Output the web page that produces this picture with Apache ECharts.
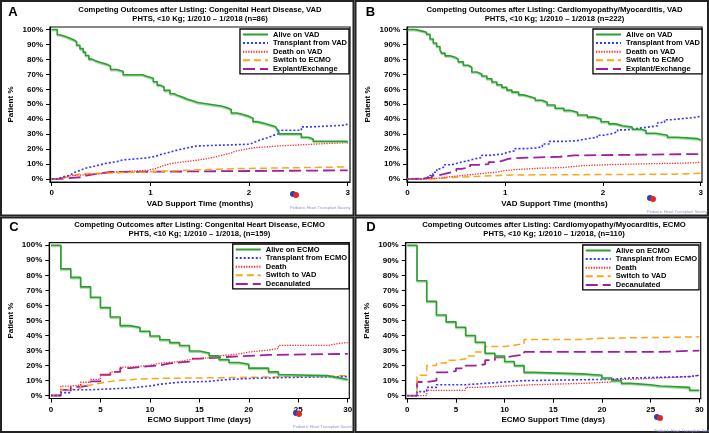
<!DOCTYPE html>
<html><head><meta charset="utf-8">
<script src="https://cdn.jsdelivr.net/npm/echarts@6.0.0/dist/echarts.min.js"></script>
<style>html,body{margin:0;padding:0;background:#fff}#c{width:709px;height:433px}</style>
</head><body><div id="c"></div>
<script>
// ---------- DATA ----------
const pctTicks = [0,10,20,30,40,50,60,70,80,90,100];
const monthTicks = [0,1,2,3];
const dayTicks = [0,5,10,15,20,25,30];

const vadNames = ['Alive on VAD','Transplant from VAD','Death on VAD','Switch to ECMO','Explant/Exchange'];
const ecmoNames = ['Alive on ECMO','Transplant from ECMO','Death','Switch to VAD','Decanulated'];

const panelLetters = ['A','B','C','D'];
const panelTitles = [
  'Competing Outcomes after Listing: Congenital Heart Disease, VAD\nPHTS, <10 Kg; 1/2010 \u2013 1/2018 (n=86)',
  'Competing Outcomes after Listing: Cardiomyopathy/Myocarditis, VAD\nPHTS, <10 Kg; 1/2010 \u2013 1/2018 (n=222)',
  'Competing Outcomes after Listing: Congenital Heart Disease, ECMO\nPHTS, <10 Kg; 1/2010 \u2013 1/2018, (n=159)',
  'Competing Outcomes after Listing: Cardiomyopathy/Myocarditis, ECMO\nPHTS, <10 Kg; 1/2010 \u2013 1/2018, (n=110)'
];
const xNames = ['VAD Support Time (months)','VAD Support Time (months)','ECMO Support Time (days)','ECMO Support Time (days)'];

// Panel A: Congenital heart disease, VAD (months)
const chdVadAlive = [[0,100],[0.057,96.5],[0.084,95.3],[0.14,94.2],[0.185,93.0],[0.226,91.9],[0.253,89.5],[0.286,87.2],[0.32,84.9],[0.343,82.6],[0.377,80.2],[0.41,79.1],[0.444,77.9],[0.495,76.7],[0.562,75.6],[0.596,73.3],[0.657,72.1],[0.724,69.8],[0.92,68.6],[0.97,67.4],[1.03,65.1],[1.07,62.8],[1.1,61.6],[1.14,59.3],[1.2,57.0],[1.24,55.8],[1.28,54.7],[1.33,53.5],[1.37,52.3],[1.43,51.2],[1.48,50.0],[1.6,48.8],[1.72,47.7],[1.78,46.5],[1.82,44.2],[1.88,43.0],[1.95,41.9],[2.0,40.7],[2.04,38.4],[2.08,37.2],[2.16,36.0],[2.22,34.9],[2.27,33.7],[2.29,32.6],[2.31,30.2],[2.53,27.9],[2.6,26.7],[2.65,25.3],[2.99,24.4]];
const chdVadTx = [[0,0],[0.07,1.2],[0.1,2.3],[0.17,3.5],[0.21,4.7],[0.24,5.8],[0.29,7.0],[0.33,8.1],[0.4,9.3],[0.48,10.5],[0.55,11.6],[0.66,12.8],[0.72,14.0],[0.95,15.1],[1.05,16.3],[1.1,17.4],[1.17,18.6],[1.23,19.8],[1.3,20.9],[1.38,22.1],[1.47,23.3],[2.01,24.4],[2.05,25.6],[2.09,26.7],[2.14,27.9],[2.2,29.1],[2.24,30.2],[2.3,32.6],[2.53,34.9],[2.63,36.0],[2.98,37.2]];
const chdVadDeath = [[0,0],[0.05,1.2],[0.13,2.3],[0.2,3.5],[0.5,4.7],[0.6,5.8],[0.98,7.0],[1.05,8.1],[1.1,9.3],[1.15,10.5],[1.22,11.6],[1.35,12.8],[1.5,14.0],[1.6,15.1],[1.68,16.3],[1.75,17.4],[1.82,18.6],[1.86,19.8],[1.95,20.9],[2.05,22.1],[2.3,23.3],[2.65,24.4]];
const chdVadSwitch = [[0,0],[0.1,1.2],[0.15,2.3],[0.22,3.5],[0.3,4.7],[0.95,5.8],[1.35,7.0],[1.9,8.1]];
const chdVadExplant = [[0,0],[0.05,1.2],[0.3,2.3],[0.35,3.5],[0.45,4.7],[0.6,5.8]];

// Panel B: Cardiomyopathy/Myocarditis, VAD (months)
const cmVadAlive = [[0,100],[0.075,99.1],[0.144,98.2],[0.195,96.8],[0.23,93.7],[0.264,91.0],[0.298,88.7],[0.332,86.5],[0.349,84.2],[0.384,82.4],[0.435,81.5],[0.486,80.2],[0.52,78.4],[0.572,76.1],[0.623,74.8],[0.658,71.6],[0.709,70.3],[0.76,68.9],[0.812,67.1],[0.863,64.9],[0.914,63.1],[0.966,61.3],[1.017,59.5],[1.068,58.1],[1.137,56.3],[1.188,55.4],[1.24,54.1],[1.308,52.7],[1.377,51.4],[1.428,49.5],[1.51,47.3],[1.6,45.9],[1.67,44.6],[1.74,42.8],[1.84,41.4],[1.91,40.1],[1.98,38.3],[2.06,36.9],[2.13,35.6],[2.2,34.7],[2.3,33.3],[2.39,32.4],[2.44,30.6],[2.54,29.3],[2.66,27.9],[2.76,27.0],[2.97,26.1]];
const cmVadTx = [[0,0],[0.144,0.9],[0.21,2.3],[0.26,4.5],[0.3,6.8],[0.33,8.1],[0.38,9.5],[0.45,10.4],[0.5,11.3],[0.55,12.2],[0.62,13.5],[0.69,14.4],[0.76,15.8],[0.83,16.2],[0.9,16.7],[0.97,18.0],[1.03,18.9],[1.1,20.3],[1.2,20.7],[1.31,21.6],[1.38,23.4],[1.45,25.2],[1.6,25.7],[1.74,27.0],[1.84,27.9],[1.94,29.3],[2.01,30.2],[2.08,31.5],[2.15,32.9],[2.25,33.8],[2.35,34.7],[2.46,35.6],[2.56,37.8],[2.63,39.6],[2.69,40.5],[2.83,41.4],[2.97,42.3]];
const cmVadDeath = [[0,0],[0.21,0.5],[0.31,1.4],[0.42,2.3],[0.55,3.2],[0.69,4.1],[0.83,4.5],[0.9,5.4],[0.97,6.3],[1.1,6.8],[1.25,7.2],[1.34,7.7],[1.6,9.0],[1.8,9.5],[2.01,9.9],[2.25,10.8],[2.93,11.3]];
const cmVadSwitch = [[0,0],[0.21,0.5],[0.35,0.9],[0.42,1.4],[0.55,1.8],[0.73,2.7],[1.07,3.2],[2.73,3.8]];
const cmVadExplant = [[0,0],[0.03,0.5],[0.18,0.9],[0.25,2.3],[0.3,3.2],[0.37,4.5],[0.45,5.4],[0.5,6.8],[0.55,7.7],[0.64,9.5],[0.73,9.9],[0.83,11.3],[0.9,12.2],[0.97,13.5],[1.03,14.0],[1.1,14.9],[1.56,15.8],[1.7,16.7]];

// Panel C: Congenital heart disease, ECMO (days)
const chdEcmoAlive = [[0,100],[1,84.3],[2,78.6],[3,72.3],[4,65.4],[5,58.5],[6,52.2],[7,46.5],[8,45.3],[9,42.8],[10,39.6],[11,37.1],[12,35.2],[13,33.3],[14,29.6],[15,28.3],[16,26.4],[17,23.9],[18,22.0],[19,20.8],[20,18.2],[22,15.7],[23,13.8],[24,13.2],[28,11.9],[29,10.7]];
const chdEcmoTx = [[0,0],[1,1.9],[2,3.8],[4,5.0],[8,5.7],[9,6.3],[10,7.5],[11,8.2],[12,8.8],[13,9.4],[16,10.1],[17,10.7],[18,11.3],[20,12.0],[24,12.6]];
const chdEcmoDeath = [[0,0],[1,6.3],[2,6.9],[3,8.8],[4,10.7],[5,13.8],[6,15.7],[7,18.9],[8,19.5],[9,20.1],[10,21.4],[11,22.0],[12,22.6],[13,23.9],[14,24.5],[15,25.2],[16,26.4],[17,27.0],[18,27.7],[19,28.9],[20,29.6],[21,30.2],[22,31.4],[23,33.3],[28,34.6],[29,35.2]];
const chdEcmoSwitch = [[0,0],[1,3.8],[2,5.0],[3,6.9],[4,8.2],[5,9.4],[6,10.1],[7,11.3],[10,11.9],[18,13.2]];
const chdEcmoDecan = [[0,0],[1,3.8],[2,5.7],[3,6.9],[4,9.4],[5,13.8],[6,15.7],[7,18.2],[8,18.9],[9,19.5],[10,20.1],[11,21.4],[12,22.0],[13,22.6],[14,24.5],[15,25.2],[17,25.8],[18,26.4],[20,27.0],[22,27.7]];

// Panel D: Cardiomyopathy/Myocarditis, ECMO (days)
const cmEcmoAlive = [[0,100],[1,76.4],[2,62.7],[3,53.6],[4,49.1],[5,45.5],[6,40.0],[7,35.5],[8,28.2],[9,26.4],[10,22.7],[11,20.0],[12,15.5],[13,14.5],[18,13.6],[20,11.8],[21,10.0],[22,8.2],[23,7.3],[25,6.4],[26,5.5],[29,3.6]];
const cmEcmoTx = [[0,0],[1,2.7],[2,5.5],[3,7.3],[6,8.2],[8,9.1],[10,10.0],[12,10.9],[21,11.8],[23,12.7],[29,13.6]];
const cmEcmoDeath = [[0,0],[2,3.6],[6,5.5],[7,6.4],[10,7.3],[13,8.2],[18,9.1],[21,10.9],[23,11.8],[26,12.7],[29,13.6]];
const cmEcmoSwitch = [[0,0],[1,13.6],[2,20.0],[3,21.8],[4,23.6],[5,24.5],[6,26.4],[7,29.1],[8,32.7],[10,33.6],[11,34.5],[12,37.3],[18,38.2],[20,39.1]];
const cmEcmoDecan = [[0,0],[1,9.1],[2,10.0],[3,15.5],[4,16.4],[5,18.2],[6,20.0],[7,20.9],[8,23.6],[9,25.5],[10,26.4],[11,27.3],[12,29.1],[26,30.0]];

// ---------- LAYOUT / STYLE ----------
const FONT = '"Liberation Sans", Arial, Helvetica, sans-serif';
const panelData = [
  [chdVadAlive, chdVadTx, chdVadDeath, chdVadSwitch, chdVadExplant],
  [cmVadAlive, cmVadTx, cmVadDeath, cmVadSwitch, cmVadExplant],
  [chdEcmoAlive, chdEcmoTx, chdEcmoDeath, chdEcmoSwitch, chdEcmoDecan],
  [cmEcmoAlive, cmEcmoTx, cmEcmoDeath, cmEcmoSwitch, cmEcmoDecan]
];
const grids = [
  {left:50, top:27, width:300, height:155},
  {left:407, top:27, width:295, height:155},
  {left:49.3, top:242.7, width:300, height:155.8},
  {left:405.7, top:242.7, width:295, height:156}
];
const xRanges = [[-0.017,3.023],[-0.005,3.013],[-0.17,30.16],[-0.16,30.14]];
const xEnds = [3,3,30,30];
const legendPos = [{right:360,top:29},{right:7,top:29},{right:360,top:244},{right:10,top:245}];
const titlePos = [[200,14.5],[554.5,14.5],[199.5,229.8],[554,229.8]];
const letterPos = [[13,12],[370.5,12],[14,227.5],[371,227.5]];
const logoPos = [[290,189],[647,193],[293,408],[654,412]];

const styles = [
  {color:'#2e9c2e', width:1.6, type:'solid'},
  {color:'#3535ff', width:1.6, type:[2,2]},
  {color:'#ff2a2a', width:1.3, type:[1.3,1.3]},
  {color:'#ffa414', width:1.5, type:[7,4]},
  {color:'#a01fa0', width:1.8, type:[12,5]}
];

const grid = [], xAxis = [], yAxis = [], series = [], legend = [], graphic = [];
const bold8 = {fontFamily:FONT, fontWeight:'bold', fontSize:8, color:'#000'};

for (let p = 0; p < 4; p++) {
  const names = p < 2 ? vadNames : ecmoNames;
  grid.push(Object.assign({show:true, borderColor:'#111', borderWidth:1.2, backgroundColor:'#fff'}, grids[p]));
  const xt = p < 2 ? monthTicks : dayTicks;
  xAxis.push({
    type:'value', gridIndex:p, min:xRanges[p][0], max:xRanges[p][1],
    axisLine:{show:true, onZero:false, lineStyle:{color:'#000', width:1.2}},
    axisTick:{show:true, customValues:xt, length:4, lineStyle:{color:'#000', width:1}},
    axisLabel:Object.assign({customValues:xt, margin:7}, bold8),
    splitLine:{show:false},
    name:xNames[p], nameLocation:'middle', nameGap:17.5,
    nameTextStyle:Object.assign({}, bold8, {fontSize:8})
  });
  yAxis.push({
    type:'value', gridIndex:p, min:-2, max:101.7,
    axisLine:{show:true, onZero:false, lineStyle:{color:'#000', width:1.2}},
    axisTick:{show:true, customValues:pctTicks, length:4, lineStyle:{color:'#000', width:1}},
    axisLabel:Object.assign({customValues:pctTicks, margin:7, formatter:v => v + '%'}, bold8),
    splitLine:{show:false},
    name:'Patient %', nameLocation:'middle', nameGap:35,
    nameTextStyle:Object.assign({}, bold8)
  });
  panelData[p].forEach((d, k) => {
    const pts = d.slice();
    pts.push([xEnds[p], d[d.length - 1][1]]);
    const st = styles[k];
    series.push({
      type:'line', name:names[k], xAxisIndex:p, yAxisIndex:p, data:pts, step:'end',
      symbol:'none', showSymbol:false, animation:false, z: 10 - k,
      lineStyle: Object.assign({color:st.color, width:st.width, type:st.type},
        k === 0 ? {shadowColor:'rgba(90,190,90,0.55)', shadowOffsetY:1.2, shadowBlur:0} : {}),
      itemStyle:{color:st.color}
    });
  });
  legend.push(Object.assign({
    data:names, orient:'vertical', selectedMode:false,
    itemWidth:25, itemHeight:7, itemGap:0.6, padding:[1.5,2,1,2],
    itemStyle:{opacity:0, borderWidth:0},
    backgroundColor:'#fff', borderColor:'#000', borderWidth:1.3,
    textStyle:{fontFamily:FONT, fontWeight:'bold', fontSize:7.5, lineHeight:8, color:'#000'}
  }, legendPos[p]));

  // panel frame
  const fx = p % 2 === 0 ? 1 : 355.5, fy = p < 2 ? 1 : 217.5;
  graphic.push({type:'rect', shape:{x:fx, y:fy, width:352.5, height:214.5}, style:{fill:null, stroke:'#222', lineWidth:2}, z:100});
  // letter
  graphic.push({type:'text', x:letterPos[p][0], y:letterPos[p][1], style:{text:panelLetters[p], font:'bold 13px ' + FONT, fill:'#000', align:'center', verticalAlign:'middle'}, z:100});
  // title
  graphic.push({type:'text', x:titlePos[p][0], y:titlePos[p][1], style:{text:panelTitles[p], font:'bold 7.7px ' + FONT, fill:'#000', align:'center', verticalAlign:'middle', lineHeight:9}, z:100});
  // logo
  const [lx, ly] = logoPos[p];
  graphic.push({type:'circle', shape:{cx:lx + 3, cy:ly + 5, r:3}, style:{fill:'#2a3fbf'}, z:100});
  graphic.push({type:'circle', shape:{cx:lx + 6, cy:ly + 6, r:3}, style:{fill:'#e02828'}, z:100});
  graphic.push({type:'text', x:lx, y:ly + 19, style:{text:'Pediatric Heart Transplant Society', font:'4px ' + FONT, fill:'#8a94d0', align:'left', verticalAlign:'middle'}, z:100});
}

const chart = echarts.init(document.getElementById('c'), null, {renderer:'canvas'});
chart.setOption({backgroundColor:'#fff', animation:false, grid, xAxis, yAxis, series, legend, graphic});
</script></body></html>
